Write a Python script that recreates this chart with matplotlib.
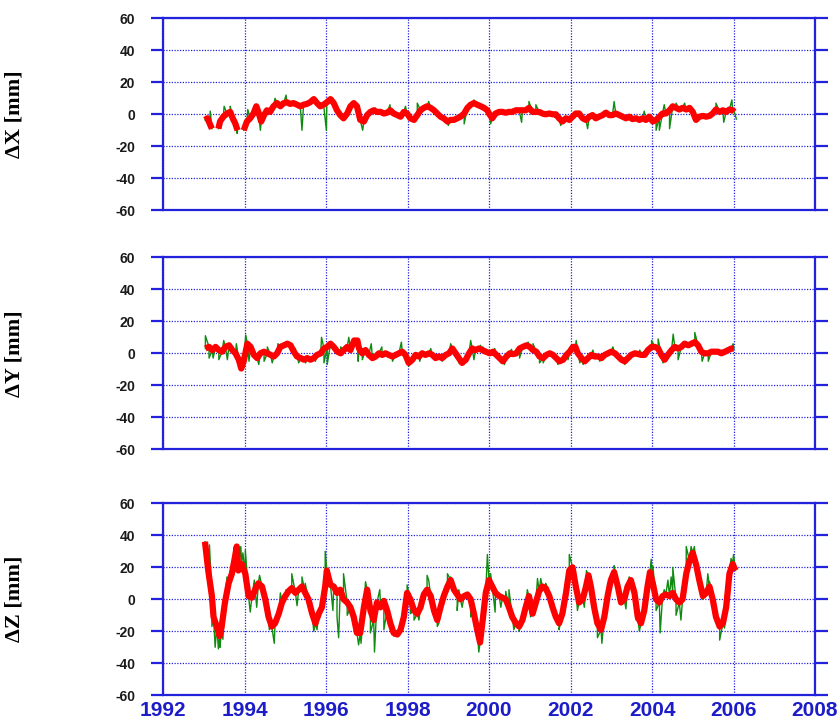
import numpy as np
import matplotlib
matplotlib.use("Agg")
import matplotlib.pyplot as plt

plt.rcParams["axes.unicode_minus"] = False

# smoothed station coordinate residuals (decimal year, mm); NaN marks data gaps
x_t = [1993.03, 1993.09, 1993.14, 1993.20, 1993.28, 1993.36, 1993.40, 1993.48, 1993.57, 1993.65,
       1993.71, 1993.77, 1993.83, 1993.90, 1993.98, 1994.06, 1994.14, 1994.22, 1994.29, 1994.34,
       1994.41, 1994.48, 1994.55, 1994.63, 1994.71, 1994.80, 1994.88, 1994.96, 1995.04, 1995.12,
       1995.20, 1995.29, 1995.37, 1995.45, 1995.53, 1995.61, 1995.70, 1995.78, 1995.86, 1995.94,
       1996.02, 1996.11, 1996.19, 1996.27, 1996.35, 1996.43, 1996.52, 1996.60, 1996.68, 1996.76,
       1996.84, 1996.93, 1997.01, 1997.09, 1997.17, 1997.25, 1997.34, 1997.42, 1997.50, 1997.58,
       1997.66, 1997.75, 1997.83, 1997.91, 1997.99, 1998.07, 1998.16, 1998.24, 1998.32, 1998.40,
       1998.48, 1998.57, 1998.65, 1998.73, 1998.81, 1998.89, 1998.98, 1999.06, 1999.14, 1999.22,
       1999.30, 1999.39, 1999.47, 1999.55, 1999.63, 1999.71, 1999.80, 1999.88, 1999.96, 2000.00,
       2000.08, 2000.16, 2000.25, 2000.33, 2000.41, 2000.49, 2000.57, 2000.66, 2000.74, 2000.82,
       2000.90, 2000.98, 2001.07, 2001.15, 2001.23, 2001.31, 2001.39, 2001.48, 2001.56, 2001.64,
       2001.72, 2001.80, 2001.89, 2001.97, 2002.05, 2002.13, 2002.21, 2002.30, 2002.38, 2002.46,
       2002.54, 2002.62, 2002.70, 2002.79, 2002.87, 2002.95, 2003.03, 2003.11, 2003.20, 2003.28,
       2003.36, 2003.44, 2003.52, 2003.61, 2003.69, 2003.77, 2003.85, 2003.93, 2004.02, 2004.10,
       2004.18, 2004.26, 2004.34, 2004.43, 2004.51, 2004.59, 2004.67, 2004.75, 2004.84, 2004.92,
       2005.00, 2005.08, 2005.16, 2005.25, 2005.33, 2005.41, 2005.49, 2005.57, 2005.66, 2005.74,
       2005.82, 2005.90, 2005.98, 2006.02]
x_mm = [-3.5, -2.5, -5.5, -9, np.nan, -9, -4.5, -1.5, 0.5, 1.5,
        -2.5, -5.5, -10, np.nan, -10, -4.5, -2.5, 0.5, 5, 1.5,
        -4.5, -0.5, 2.5, 1.5, 5, 7, 5, 7, 7.5, 6.5,
        7, 6, 5, 6, 6.5, 7.5, 9.5, 7, 5, 6,
        7.5, 9.5, 7, 2.5, -0.5, -2.5, 0.5, 5, 7, 5,
        -3.5, -4.5, -0.5, 1.5, 2.5, 1.5, 1.5, 0.5, 1, 2.5,
        0.5, -0.5, -1.5, 1.5, 0.5, -2.5, -3.5, -0.5, 2.5, 4,
        5, 4, 2.5, 0.5, -1.5, -2.5, -4.5, -3.5, -3.5, -2.5,
        -1.5, 0.5, 4, 6, 7, 6, 5, 4, 2.5, 0.5,
        -2.5, 0.5, 1.5, 1.5, 1, 1.5, 1.5, 2.5, 2.5, 2.5,
        2.5, 4, 1.5, 1.5, 1.5, 0.5, 0, 0.5, 0, 0,
        -2.5, -4.5, -2.5, -3.5, -1.5, 0.5, 0.5, -2.5, -3.5, -1.5,
        -0.5, -2.5, -1.5, -0.5, 1, -0.5, -0.5, 0.5, -0.5, -1.5,
        -2.5, -1.5, -3, -2.5, -3.5, -2.5, -3.5, -1.5, -4.5, -3.5,
        -1.5, 0.5, 0.5, 2.5, 5, 4, 3, 4, 3, 4,
        1.5, -3.5, -1.5, -1, -1.5, -1, 0.5, 3, 1.5, 2.5,
        1.5, 3, 2.5, 1.5]

y_t = [1993.04, 1993.13, 1993.21, 1993.29, 1993.37, 1993.45, 1993.53, 1993.62, 1993.70, 1993.78,
       1993.86, 1993.92, 1993.98, 1994.07, 1994.15, 1994.23, 1994.31, 1994.39, 1994.48, 1994.56,
       1994.64, 1994.72, 1994.80, 1994.88, 1994.97, 1995.05, 1995.13, 1995.21, 1995.29, 1995.38,
       1995.46, 1995.54, 1995.62, 1995.70, 1995.78, 1995.87, 1995.95, 1996.03, 1996.11, 1996.19,
       1996.28, 1996.36, 1996.44, 1996.52, 1996.60, 1996.69, 1996.77, 1996.81, 1996.89, 1996.97,
       1997.05, 1997.14, 1997.22, 1997.30, 1997.38, 1997.46, 1997.54, 1997.63, 1997.71, 1997.79,
       1997.87, 1997.95, 1998.03, 1998.12, 1998.20, 1998.28, 1998.36, 1998.44, 1998.53, 1998.61,
       1998.69, 1998.77, 1998.85, 1998.94, 1999.02, 1999.10, 1999.18, 1999.26, 1999.34, 1999.43,
       1999.51, 1999.59, 1999.67, 1999.75, 1999.84, 1999.92, 2000.02, 2000.10, 2000.18, 2000.26,
       2000.34, 2000.43, 2000.51, 2000.59, 2000.67, 2000.75, 2000.83, 2000.92, 2001.00, 2001.08,
       2001.16, 2001.24, 2001.33, 2001.41, 2001.49, 2001.57, 2001.65, 2001.73, 2001.82, 2001.90,
       2001.98, 2002.06, 2002.12, 2002.18, 2002.27, 2002.35, 2002.43, 2002.51, 2002.59, 2002.68,
       2002.76, 2002.84, 2002.92, 2003.00, 2003.09, 2003.17, 2003.25, 2003.33, 2003.41, 2003.49,
       2003.58, 2003.66, 2003.74, 2003.82, 2003.90, 2003.99, 2004.07, 2004.15, 2004.23, 2004.31,
       2004.39, 2004.48, 2004.56, 2004.64, 2004.72, 2004.80, 2004.89, 2004.97, 2005.05, 2005.13,
       2005.21, 2005.29, 2005.38, 2005.46, 2005.54, 2005.62, 2005.70, 2005.79, 2005.87, 2005.95,
       2006.01]
y_mm = [3, 4, 2, 4, 2, 1, 4, 5, 2, 0,
        -4, -9.5, -5, 6, 4, -1, -3, 0, 1, 0,
        -1, -2, 0, 4, 5, 6, 5, 1, -2, -3,
        -4, -3, -4, -3, -1, 0, 3, 4, 6, 4,
        1, 0, 2, 4, 2, 8, 8, 3, 0, 2,
        -1, -3, -2, 0, -1, 0, -1, -2, -1, 0,
        1, -1, -6, -4, -1, -2, 0, -1, 0, -1,
        -3, -2, -3, -1, 0, 3, 0, -3, -6, -4,
        0, 3, 2, 3, 2, 1, 0, 1, -1, -3,
        -5, -2, 0, -0.5, 0, 3, 4, 5, 4, 2,
        1, -2, -3, -1, 0, -1, -3, -5, -4, -1,
        1, 4, 4, 0, -3, -5, -3, -1, -2, -2,
        -3, -1, 0, 1, 0, -2, -4, -5, -3, -1,
        0, -0.5, -1, -1, 2, 4, 4, 3, -1, -4,
        -1, 2, 4, 3, 4, 6, 5, 6, 7, 5,
        1, 0, 0, 1, 1, 1, 0, 1, 2, 3,
        3]

z_t = [1993.03, 1993.11, 1993.20, 1993.24, 1993.32, 1993.39, 1993.44, 1993.52, 1993.61, 1993.69,
       1993.77, 1993.81, 1993.85, 1993.93, 1994.02, 1994.10, 1994.18, 1994.26, 1994.34, 1994.43,
       1994.51, 1994.59, 1994.67, 1994.75, 1994.84, 1994.92, 1995.00, 1995.08, 1995.16, 1995.25,
       1995.33, 1995.41, 1995.49, 1995.57, 1995.66, 1995.74, 1995.82, 1995.90, 1995.98, 1996.02,
       1996.11, 1996.19, 1996.27, 1996.35, 1996.43, 1996.52, 1996.60, 1996.68, 1996.76, 1996.84,
       1996.93, 1997.01, 1997.09, 1997.17, 1997.25, 1997.34, 1997.42, 1997.50, 1997.58, 1997.66,
       1997.75, 1997.83, 1997.91, 1997.99, 1998.07, 1998.16, 1998.24, 1998.32, 1998.40, 1998.48,
       1998.57, 1998.65, 1998.73, 1998.81, 1998.89, 1998.98, 1999.06, 1999.14, 1999.22, 1999.30,
       1999.39, 1999.47, 1999.55, 1999.63, 1999.71, 1999.78, 1999.85, 1999.92, 2000.00, 2000.08,
       2000.16, 2000.25, 2000.33, 2000.41, 2000.49, 2000.57, 2000.66, 2000.74, 2000.82, 2000.90,
       2000.98, 2001.07, 2001.15, 2001.23, 2001.31, 2001.39, 2001.48, 2001.56, 2001.64, 2001.72,
       2001.80, 2001.89, 2001.97, 2002.05, 2002.13, 2002.21, 2002.30, 2002.38, 2002.44, 2002.50,
       2002.58, 2002.66, 2002.75, 2002.83, 2002.91, 2002.99, 2003.07, 2003.16, 2003.24, 2003.32,
       2003.40, 2003.48, 2003.57, 2003.65, 2003.73, 2003.81, 2003.89, 2003.95, 2004.02, 2004.10,
       2004.18, 2004.26, 2004.34, 2004.43, 2004.51, 2004.59, 2004.67, 2004.75, 2004.84, 2004.92,
       2005.00, 2005.08, 2005.16, 2005.25, 2005.33, 2005.41, 2005.49, 2005.57, 2005.66, 2005.74,
       2005.82, 2005.90, 2005.98, 2006.05]
z_mm = [36, 18, 2, -11, -17, -23, -17, -2, 10, 16,
        27, 33, 18, 22, 16, 2, 1, 6, 10, 8,
        0, -11, -17, -15, -9, -2, 2, 5, 7, 4,
        6, 8, 4, 0, -9, -15, -9, -5, 8, 18,
        9, 8, 4, 6, 0, -2, -5, -11, -21, -21,
        -5, 6, -7, -13, -2, -5, -1, -7, -15, -21,
        -22, -19, -11, 4, 0, -7, -9, -5, 3, 6,
        2, -7, -13, -5, 2, 8, 12, 6, 3, 0,
        2, 3, 0, -9, -19, -27, -12, 4, 12, 8,
        4, 2, 1, 0, -5, -11, -15, -17, -13, -5,
        2, -9, -2, 5, 8, 7, 2, -5, -11, -15,
        -9, 4, 18, 20, 8, -2, 0, 8, 15, 8,
        -5, -15, -19, -11, 2, 12, 17, 8, -2, 0,
        8, 12, 4, -11, -15, -7, 8, 17, 10, 0,
        -2, 2, 3, 2, 4, 0, -2, 0, 16, 24,
        29, 22, 12, 2, 4, 8, 0, -11, -17, -15,
        -5, 16, 22, 18]

# single-day outliers of the daily solutions (decimal year, mm)
x_spike_t = [1993.16, 1993.50, 1993.65, 1993.82, 1994.08, 1994.39, 1994.75, 1995.02, 1995.41, 1996.01,
             1996.11, 1996.90, 1997.21, 1997.57, 1997.95, 1998.24, 1998.52, 1999.00, 1999.39, 1999.63,
             2000.04, 2000.80, 2000.98, 2001.15, 2001.76, 2002.42, 2002.83, 2003.07, 2003.81, 2004.10,
             2004.18, 2004.30, 2004.43, 2004.59, 2004.80, 2005.57, 2005.76, 2005.96, 2006.07]
x_spike_mm = [2, 5, 5, -12, 3, -10, 10, 12, -10, -10,
              10, -10, 4, 6, 5, 7, 8, -7, -6, 9,
              -6, -5, 8, 6, -7, -9, 2, 8, 2, -10,
              -10, 6, -9, 7, 7, 7, -5, 9, -3]

y_spike_t = [1993.04, 1993.13, 1993.23, 1993.37, 1993.49, 1993.58, 1993.80, 1994.03, 1994.11, 1994.35,
             1994.48, 1994.56, 1994.68, 1994.82, 1995.25, 1995.33, 1995.50, 1995.74, 1995.89, 1995.95,
             1996.03, 1996.36, 1996.56, 1996.79, 1996.89, 1997.11, 1997.37, 1997.63, 1997.85, 1998.03,
             1998.30, 1998.57, 1998.85, 1999.06, 1999.26, 1999.55, 1999.63, 1999.79, 1999.85, 2000.14,
             2000.30, 2000.38, 2000.55, 2000.75, 2000.96, 2001.08, 2001.24, 2001.33, 2001.69, 2001.94,
             2002.14, 2002.23, 2002.31, 2002.55, 2002.72, 2003.04, 2003.33, 2003.70, 2003.99, 2004.15,
             2004.27, 2004.52, 2004.64, 2004.84, 2005.05, 2005.23, 2005.38, 2005.70, 2005.99]
y_spike_mm = [11, -3, -3, -4, 8, -4, 6, 11.5, -5, -7,
              -5, 4, -6, 6, 3, -6, -6, -5, 10, -6,
              -7, 4, 10, -5, -4, 6, 4, -5, 7, -8,
              -5, 3, -5, 6, -6, 8, -4, 5, 4, 3,
              -6, -7, 2.5, -3, 7, 6, -6, -6, -7, -4,
              8, -6, -7, 2, -5, 4, -7, 2, 8, 9,
              -6, 12, -4, 7, 13, -5, -5, 2, 6]

z_spike_t = [1993.14, 1993.20, 1993.28, 1993.36, 1993.40, 1993.47, 1993.57, 1993.69, 1993.80, 1993.91,
             1993.96, 1994.02, 1994.14, 1994.24, 1994.30, 1994.37, 1994.61, 1994.73, 1994.88, 1995.02,
             1995.16, 1995.29, 1995.41, 1995.49, 1995.70, 1995.78, 1995.86, 1995.98, 1996.07, 1996.17,
             1996.27, 1996.31, 1996.43, 1996.52, 1996.68, 1996.80, 1996.86, 1996.97, 1997.09, 1997.19,
             1997.32, 1997.42, 1997.57, 1997.66, 1997.79, 1997.99, 1998.07, 1998.16, 1998.28, 1998.48,
             1998.52, 1998.73, 1998.77, 1998.98, 1999.06, 1999.22, 1999.26, 1999.34, 1999.55, 1999.75,
             1999.88, 1999.96, 2000.04, 2000.15, 2000.29, 2000.41, 2000.49, 2000.61, 2000.74, 2000.94,
             2001.02, 2001.19, 2001.27, 2001.39, 2001.60, 2001.72, 2001.97, 2002.09, 2002.17, 2002.34,
             2002.39, 2002.46, 2002.58, 2002.66, 2002.77, 2002.91, 2003.07, 2003.20, 2003.36, 2003.44,
             2003.61, 2003.69, 2003.81, 2003.98, 2004.02, 2004.10, 2004.20, 2004.30, 2004.39, 2004.47,
             2004.51, 2004.59, 2004.71, 2004.84, 2004.96, 2005.04, 2005.16, 2005.23, 2005.37, 2005.41,
             2005.61, 2005.66, 2005.78, 2005.94, 2006.00]
z_spike_mm = [34, -17, -30, -31, -30, -25, 14, 22, 33, 33,
              29, 31, -8, 12, -5, 15, -19, -27.5, 4, 6,
              16, -4, 14, 10, -20, -19, -11, 30, 18, -7,
              -11, -24, 16, -10, -13, -28.5, -27.5, 11, -21, -33,
              6, -19, -17, -23, -22, 9, -9, -13, -13, 15,
              12, -17, -15, 16, 14, -7, 6, -5, -11, -33,
              -13, 28, 16, -8, -5, 5, 6, -19, -20, 6,
              -11, 13, 13, 10, -9, -19, 28, 18, -7, -5,
              18, 14, -11, -24, -27.5, 10, 21, 8, -6, 14,
              -13, -20, 0, 25, 21, -7, -21, 6, 12, 14,
              20, -10, -13, 33, 33, 33, 16, 0, 16, 11,
              -17, -25.5, -18, 25.5, 28]

panels = [
    ("\u0394X [mm]", x_t, x_mm, x_spike_t, x_spike_mm),
    ("\u0394Y [mm]", y_t, y_mm, y_spike_t, y_spike_mm),
    ("\u0394Z [mm]", z_t, z_mm, z_spike_t, z_spike_mm),
]

blue = "#2222dd"
W, H = 840, 724
fig = plt.figure(figsize=(W / 100, H / 100), dpi=100)

# axes boxes in pixels: (top, bottom) of each panel
boxes = [(18.3, 210.3), (257.3, 449.3), (503.3, 695.3)]
left, right = 163, 815

for i, (label, t, v, st, sv) in enumerate(panels):
    top, bot = boxes[i]
    ax = fig.add_axes([left / W, 1 - bot / H, (right - left) / W, (bot - top) / H])

    # daily series: smoothed knots together with the outlier days
    t_all = np.concatenate([t, st])
    v_all = np.concatenate([v, sv])
    order = np.argsort(t_all, kind="stable")
    ax.plot(t_all[order], v_all[order], color="#108a10", lw=1.0, zorder=2)
    ax.plot(t, v, color="#ff0000", lw=4.5, solid_capstyle="butt", zorder=3)

    ax.set_xlim(1992, 2008)
    ax.set_ylim(-60, 60)
    ax.set_xticks(np.arange(1992, 2009, 2))
    ax.set_yticks(np.arange(-60, 61, 20))
    ax.grid(True, color=blue, linestyle=(0, (1, 1.2)), lw=0.9)
    for s in ax.spines.values():
        s.set_color(blue)
        s.set_linewidth(1.6)

    ax.tick_params(axis="y", direction="out", length=9, width=1.6, color=blue,
                   left=True, right=True, pad=11)
    ax.tick_params(axis="x", length=0, pad=4)
    for lab in ax.get_yticklabels():
        lab.set_family("Liberation Sans")
        lab.set_fontweight("bold")
        lab.set_fontsize(10)
        lab.set_color("#1a1a1a")

    if i < 2:
        ax.set_xticklabels([])
    else:
        for lab in ax.get_xticklabels():
            lab.set_family("Liberation Sans")
            lab.set_fontweight("bold")
            lab.set_fontsize(15)
            lab.set_color("#1c1cc8")

    ax.set_ylabel(label, family="Liberation Serif", fontweight="bold", fontsize=16)
    ax.yaxis.set_label_coords(-0.213, 0.5)

fig.savefig("out.png", dpi=100)
